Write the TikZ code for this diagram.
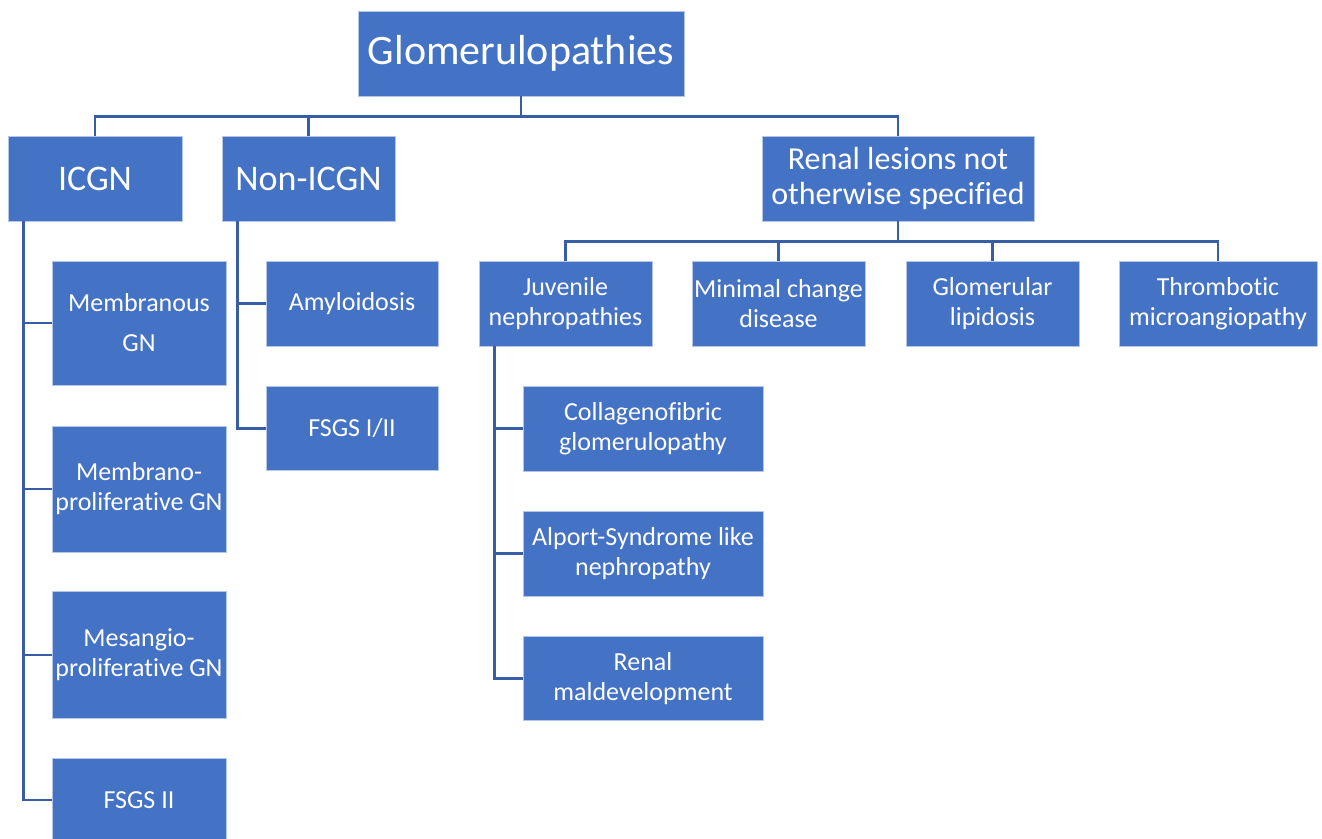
\documentclass[tikz,border=0pt]{standalone}
\usepackage{fontspec}
\setmainfont{Carlito}[Ligatures=NoCommon]
\usepackage{xcolor}
\usetikzlibrary{positioning}

\definecolor{boxblue}{RGB}{68,114,196}
\definecolor{lineblue}{RGB}{55,94,165}

\begin{document}
\begin{tikzpicture}[x=1pt, y=-1pt, node distance=166pt]
    % Define styles
    \tikzstyle{box} = [rectangle, fill=boxblue, draw=boxblue!40!white, line width=0.8pt, text=white, align=center, inner sep=0pt, font=\fontsize{26}{30}\selectfont]
    \tikzstyle{link} = [draw=lineblue, line width=2.6pt]

    \clip (0,0) rectangle (1322,838);
    \useasboundingbox (0,0) rectangle (1322,838);

    % Nodes
    \node (glom) [box, minimum width=326pt, minimum height=85pt, font=\fontsize{42}{48}\selectfont] at (521,53.5) {Glomerulopathies};
    \node (icgn) [box, minimum width=174pt, minimum height=85pt, font=\fontsize{36}{40}\selectfont] at (95,178.5) {ICGN};
    \node (nonicgn) [box, minimum width=173pt, minimum height=85pt, font=\fontsize{36}{40}\selectfont] at (308.5,178.5) {Non-ICGN};
    \node (renal) [box, minimum width=272pt, minimum height=85pt, font=\fontsize{32}{35}\selectfont] at (898,178.5) {Renal lesions not\\otherwise specified};

    \node (memb) [box, minimum width=174pt, minimum height=124pt] at (139,323) {Membranous\\[10pt]GN};
    \node (mpgn) [box, minimum width=174pt, minimum height=126pt, below of=memb] {Membrano-\\proliferative GN};
    \node (mesgn) [box, minimum width=174pt, minimum height=127pt, below of=mpgn] {Mesangio-\\proliferative GN};
    \node (fsgsii) [box, minimum width=174pt, minimum height=84pt, node distance=145pt, below of=mesgn] {FSGS II};

    \node (amyl) [box, minimum width=172pt, minimum height=85pt] at (352,303.5) {Amyloidosis};
    \node (fsgsi) [box, minimum width=172pt, minimum height=84pt, node distance=125pt, below of=amyl] {FSGS I/II};

    \node (juv) [box, minimum width=173pt, minimum height=85pt] at (565.5,303.5) {Juvenile\\nephropathies};
    \node (mcd) [box, minimum width=173pt, minimum height=85pt] at (778.5,303.5) {Minimal change\\disease};
    \node (glip) [box, minimum width=173pt, minimum height=85pt] at (992.5,303.5) {Glomerular\\lipidosis};
    \node (tma) [box, minimum width=198pt, minimum height=85pt] at (1218,303.5) {Thrombotic\\microangiopathy};

    \node (coll) [box, minimum width=240pt, minimum height=85pt] at (643,428.5) {Collagenofibric\\glomerulopathy};
    \node (alport) [box, minimum width=240pt, minimum height=85pt, node distance=125pt, below of=coll] {Alport-Syndrome like\\nephropathy};
    \node (maldev) [box, minimum width=240pt, minimum height=84pt, node distance=125pt, below of=alport] {Renal\\maldevelopment};

    % Connectors
    \draw [link] (glom.south) -- ++(0,20) coordinate (topbus);
    \draw [link] (topbus) -| (icgn.north);
    \draw [link] (topbus) -| (nonicgn.north);
    \draw [link] (topbus) -| (renal.north);

    \draw [link] (renal.south) -- ++(0,20) coordinate (renalbus);
    \draw [link] (renalbus) -| (juv.north);
    \draw [link] (renalbus) -| (mcd.north);
    \draw [link] (renalbus) -| (glip.north);
    \draw [link] (renalbus) -| (tma.north);

    \draw [link] ([xshift=16pt]icgn.south west) |- (memb.west);
    \draw [link] ([xshift=16pt]icgn.south west) |- (mpgn.west);
    \draw [link] ([xshift=16pt]icgn.south west) |- (mesgn.west);
    \draw [link] ([xshift=16pt]icgn.south west) |- (fsgsii.west);

    \draw [link] ([xshift=16pt]nonicgn.south west) |- (amyl.west);
    \draw [link] ([xshift=16pt]nonicgn.south west) |- (fsgsi.west);

    \draw [link] ([xshift=16pt]juv.south west) |- (coll.west);
    \draw [link] ([xshift=16pt]juv.south west) |- (alport.west);
    \draw [link] ([xshift=16pt]juv.south west) |- (maldev.west);
\end{tikzpicture}
\end{document}
